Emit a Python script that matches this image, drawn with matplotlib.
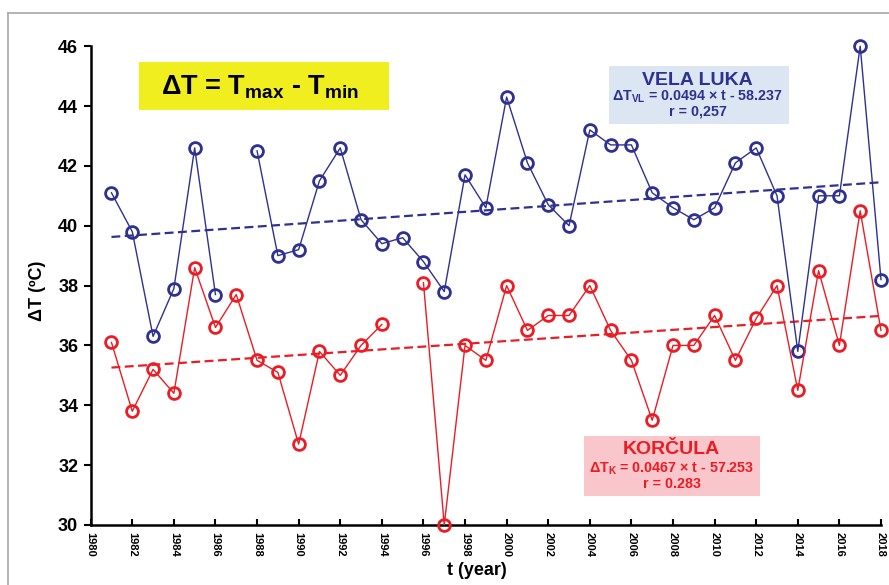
import numpy as np
import matplotlib
matplotlib.use("Agg")
import matplotlib.pyplot as plt
from matplotlib.lines import Line2D

plt.rcParams["font.family"] = ["Liberation Sans", "DejaVu Sans"]
plt.rcParams["mathtext.fontset"] = "custom"
plt.rcParams["mathtext.rm"] = "Liberation Sans:bold"
plt.rcParams["mathtext.it"] = "Liberation Sans:bold"
plt.rcParams["mathtext.bf"] = "Liberation Sans:bold"

# ── Data ──────────────────────────────────────────────────────────────────────
years = np.arange(1981, 2019)

vela_luka = [41.1, 39.8, 36.3, 37.9, 42.6, 37.7, np.nan, 42.5, 39.0, 39.2,
             41.5, 42.6, 40.2, 39.4, 39.6, 38.8, 37.8, 41.7, 40.6, 44.3,
             42.1, 40.7, 40.0, 43.2, 42.7, 42.7, 41.1, 40.6, 40.2, 40.6,
             42.1, 42.6, 41.0, 35.8, 41.0, 41.0, 46.0, 38.2]

korcula = [36.1, 33.8, 35.2, 34.4, 38.6, 36.6, 37.7, 35.5, 35.1, 32.7,
           35.8, 35.0, 36.0, 36.7, np.nan, 38.1, 30.0, 36.0, 35.5, 38.0,
           36.5, 37.0, 37.0, 38.0, 36.5, 35.5, 33.5, 36.0, 36.0, 37.0,
           35.5, 36.9, 38.0, 34.5, 38.5, 36.0, 40.5, 36.5]

# trend coefficients as printed on the chart
vl_slope, vl_icpt = 0.0494, -58.237
k_slope, k_icpt = 0.0467, -57.253

x_ticks = np.arange(1980, 2019, 2)
y_ticks = np.arange(30, 47, 2)

BLUE = "#2e3192"
RED = "#ec1c24"

fig = plt.figure(figsize=(8.89, 5.85), dpi=100)
ax = fig.add_axes([0.102, 0.1026, 0.889, 0.8185])

# ── Series ───────────────────────────────────────────────────────────────────
ax.plot(years, vela_luka, "-", color=BLUE, linewidth=1.0, marker="o",
        markersize=8.5, markeredgewidth=2.0, markerfacecolor="none",
        clip_on=False, zorder=3)
ax.plot(years, korcula, "-", color=RED, linewidth=1.0, marker="o",
        markersize=8.5, markeredgewidth=2.0, markerfacecolor="none",
        clip_on=False, zorder=3)

t = np.array([years[0], years[-1]])
ax.plot(t, vl_slope * t + vl_icpt, "--", color=BLUE, linewidth=1.6,
        dashes=(4, 2), zorder=2)
ax.plot(t, k_slope * t + k_icpt, "--", color=RED, linewidth=1.6,
        dashes=(4, 2), zorder=2)

# ── Axes style ───────────────────────────────────────────────────────────────
ax.set_xlim(1980, 2018)
ax.set_ylim(30, 46)
ax.set_xticks(x_ticks)
ax.set_yticks(y_ticks)
ax.set_xticklabels([str(v) for v in x_ticks], rotation=270,
                   fontsize=8, fontweight="bold")
ax.set_yticklabels([str(v) for v in y_ticks], fontsize=13, fontweight="bold")
ax.tick_params(axis="x", direction="in", length=4, width=1.5, pad=5)
ax.tick_params(axis="y", direction="out", length=5, width=1.5, pad=4)
for side in ("top", "right"):
    ax.spines[side].set_visible(False)
for side in ("left", "bottom"):
    ax.spines[side].set_linewidth(1.8)

ax.set_ylabel("ΔT (ºC)", fontsize=13, fontweight="bold")
ax.yaxis.set_label_coords(-0.057, 0.49)
ax.set_xlabel("t (year)", fontsize=13, fontweight="bold")
ax.xaxis.set_label_coords(0.489, -0.078)

# ── Annotation boxes ─────────────────────────────────────────────────────────
ax.add_patch(plt.Rectangle((0.061, 0.866), 0.316, 0.101,
                           transform=ax.transAxes, facecolor="#f0ee1e",
                           edgecolor="none", zorder=1, clip_on=False))
ax.text(0.214, 0.914, r"ΔT = T$_{\mathregular{max}}$ - T$_{\mathregular{min}}$",
        transform=ax.transAxes, ha="center", va="center",
        fontsize=19.5, fontweight="bold", color="black", zorder=5)

ax.add_patch(plt.Rectangle((0.656, 0.837), 0.228, 0.121,
                           transform=ax.transAxes, facecolor="#dce6f2",
                           edgecolor="none", zorder=1))
ax.text(0.768, 0.929, "VELA LUKA", transform=ax.transAxes, ha="center",
        va="center", fontsize=14, fontweight="bold", color=BLUE, zorder=5)
ax.text(0.768, 0.894, r"ΔT$_{\mathregular{VL}}$ = 0.0494 × t - 58.237",
        transform=ax.transAxes, ha="center", va="center", fontsize=10.3,
        fontweight="bold", color=BLUE, zorder=5)
ax.text(0.768, 0.864, "r = 0,257", transform=ax.transAxes, ha="center",
        va="center", fontsize=10.3, fontweight="bold", color=BLUE, zorder=5)

ax.add_patch(plt.Rectangle((0.624, 0.0605), 0.223, 0.1255,
                           transform=ax.transAxes, facecolor="#f8c6cb",
                           edgecolor="none", zorder=1))
ax.text(0.735, 0.157, "KORČULA", transform=ax.transAxes, ha="center",
        va="center", fontsize=14, fontweight="bold", color=RED, zorder=5)
ax.text(0.735, 0.117, r"ΔT$_{\mathregular{K}}$ = 0.0467 × t - 57.253",
        transform=ax.transAxes, ha="center", va="center", fontsize=10.3,
        fontweight="bold", color=RED, zorder=5)
ax.text(0.735, 0.085, "r = 0.283", transform=ax.transAxes, ha="center",
        va="center", fontsize=10.3, fontweight="bold", color=RED, zorder=5)

# ── Outer frame (top and left edges only visible) ────────────────────────────
frame_x = 7.5 / 889
frame_y = 1 - 13 / 585
fig.add_artist(Line2D([frame_x, 1.0], [frame_y, frame_y],
                      transform=fig.transFigure, color="#a8a8a8", linewidth=1.2))
fig.add_artist(Line2D([frame_x, frame_x], [0.0, frame_y],
                      transform=fig.transFigure, color="#a8a8a8", linewidth=1.2))

fig.savefig("out.png", dpi=100)
plt.close(fig)
